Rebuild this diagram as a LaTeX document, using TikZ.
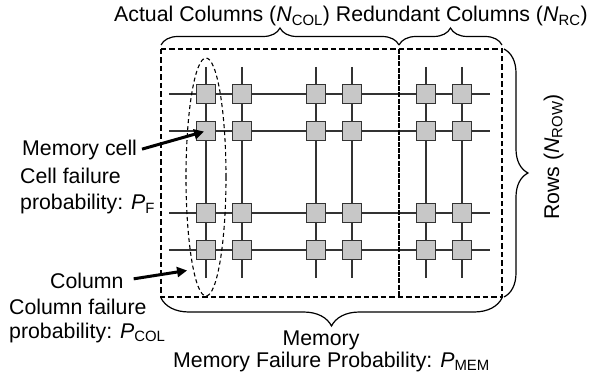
\documentclass[tikz,border=0pt]{standalone}
\usepackage{fontspec}
\setmainfont{Liberation Sans}
\usetikzlibrary{arrows.meta,shapes.geometric,decorations.pathreplacing}

\begin{document}
\begin{tikzpicture}[x=1pt,y=-1pt,
  font=\fontsize{21.3}{25}\selectfont,
  txt/.style={inner sep=0pt, anchor=base west},
  wire/.style={draw=black!80, line width=1.3pt},
  cell/.style={draw=black!80, fill=black!22, line width=1.2pt,
    minimum size=19pt, inner sep=0pt},
  frame/.style={dashed, dash pattern=on 5.5pt off 3pt, line width=1.7pt},
  splitline/.style={dash pattern=on 5pt off 1.2pt, line width=2.4pt},
  colring/.style={draw, ellipse, dash pattern=on 4pt off 3pt, line width=1.1pt,
    minimum width=40pt, minimum height=238pt, inner sep=0pt},
  pointer/.style={-{Triangle[length=10pt,width=10pt]}, line width=3pt},
  brace/.style={decorate, line width=1.2pt}]
  \useasboundingbox (0,0) rectangle (592,385);

  % column positions and row positions of the cell array
  \def\colxs{206,242,316,352,426,462}
  \def\rowys{94,131,213,250}

  % word lines
  \foreach \y [count=\r] in \rowys {
    \coordinate (wl\r-a) at (169,\y);
    \coordinate (wl\r-b) at (490,\y);
    \draw[wire] (wl\r-a) -- (wl\r-b);
  }
  % bit lines
  \foreach \x [count=\c] in \colxs {
    \coordinate (bl\c-a) at (\x,67);
    \coordinate (bl\c-b) at (\x,278);
    \draw[wire] (bl\c-a) -- (bl\c-b);
  }
  % memory cells
  \foreach \y [count=\r] in \rowys {
    \foreach \x [count=\c] in \colxs {
      \node[cell] (c-\r-\c) at (\x,\y) {};
    }
  }

  % memory boundary and redundancy split
  \coordinate (memNW) at (161,49);
  \coordinate (memSE) at (502,297);
  \coordinate (splitT) at (399,49);
  \coordinate (splitB) at (399,297);
  \draw[frame] (memNW) rectangle (memSE);
  \draw[splitline] (splitT) -- (splitB);

  % one column highlighted
  \node[colring] (colell) at (206,177) {};

  % braces
  \coordinate (tb1) at (161,45);
  \coordinate (tb2) at (399,45);
  \coordinate (tb3) at (502,45);
  \draw[brace, decoration={brace, amplitude=17pt}] (tb1) -- (tb2);
  \draw[brace, decoration={brace, amplitude=17pt}] (tb2) -- (tb3);
  \coordinate (rb1) at (504,49);
  \coordinate (rb2) at (504,297);
  \draw[brace, decoration={brace, amplitude=24pt}] (rb1) -- (rb2);
  \coordinate (bb1) at (502,298);
  \coordinate (bb2) at (161,298);
  \draw[brace, decoration={brace, amplitude=28pt}] (bb1) -- (bb2);

  % labels
  \node[txt] (toplab) at (114,22)
    {Actual Columns ({\itshape N}\textsubscript{COL}) Redundant Columns ({\itshape N}\textsubscript{RC})};
  \node[txt, rotate=90, anchor=base] (rowlab) at (559,157)
    {Rows ({\itshape N}\textsubscript{ROW})};

  \node[txt] (mcell) at (22,156) {Memory cell};
  \node[txt] (pf1) at (20,183) {Cell failure};
  \node[txt] (pf2) at (20,210) {probability: {\itshape P}\textsubscript{F}};

  \node[txt] (colname) at (50,288) {Column};
  \node[txt] (pc1) at (9,314) {Column failure};
  \node[txt] (pc2) at (9,338) {probability: {\itshape P}\textsubscript{COL}};

  \node[txt, anchor=base] (memname) at (321,345) {Memory};
  \node[txt] (memprob) at (173,367)
    {Memory Failure Probability: {\itshape P}\textsubscript{MEM}};

  % pointers
  \draw[pointer, shorten <=5pt, shorten >=2pt] (mcell.east) -- (c-2-1.center);
  \draw[pointer, shorten <=10pt, shorten >=6pt] (colname.east) -- (colell.262);
\end{tikzpicture}
\end{document}
